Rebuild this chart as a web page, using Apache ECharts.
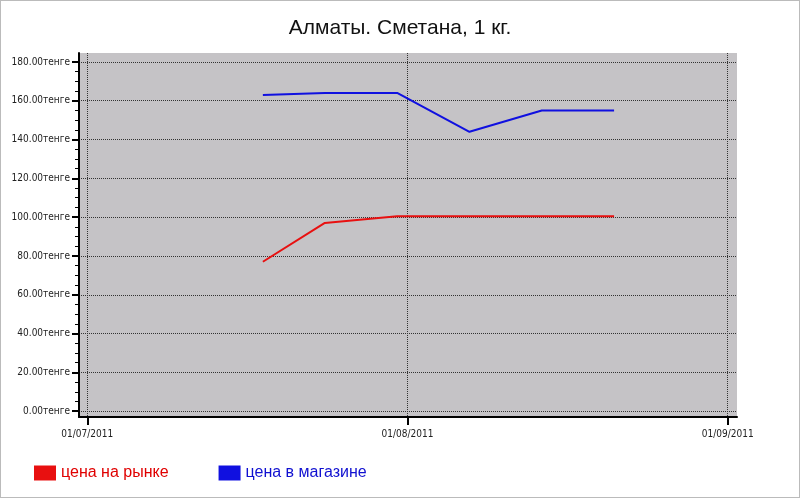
<!DOCTYPE html>
<html><head><meta charset="utf-8">
<script src="https://cdn.jsdelivr.net/npm/echarts@6/dist/echarts.min.js"></script>
<style>html,body{margin:0;padding:0;background:#fff}#c{width:800px;height:498px;box-sizing:border-box;border:1px solid #bbb}</style>
</head><body><div id="c"></div>
<script>
const dates = ['2011-07-18','2011-07-24','2011-07-31','2011-08-07','2011-08-14','2011-08-21'];
const marketPrice = [77, 97, 100.5, 100.5, 100.5, 100.5];
const shopPrice = [163, 164, 164, 144, 155, 155];
const xTickDates = ['2011-07-01','2011-08-01','2011-09-01'];
const yTicks = [0,20,40,60,80,100,120,140,160,180];

const base = Date.UTC(2011,6,1);
const day = d => (Date.parse(d+'T00:00:00Z') - base)/86400000;
const fmt = v => { const dt = new Date(base + Math.round(v)*86400000);
  const p=n=>String(n).padStart(2,'0'); return p(dt.getUTCDate())+'/'+p(dt.getUTCMonth()+1)+'/'+dt.getUTCFullYear(); };
const xt = xTickDates.map(day);
const minorY = []; for (let v=0; v<=180; v+=5) minorY.push(v);

const chart = echarts.init(document.getElementById('c'));
chart.setOption({
  animation:false,
  textStyle:{fontFamily:'Liberation Sans'},
  title:{text:'Алматы. Сметана, 1 кг.', left:'center', top:12, textStyle:{fontSize:21,fontWeight:'normal',color:'#111',fontFamily:'Liberation Sans'}},
  legend:{left:28, top:459, itemWidth:22, itemHeight:15, itemGap:50, icon:'rect',
    data:[{name:'цена на рынке', textStyle:{color:'#e00000'}},{name:'цена в магазине', textStyle:{color:'#1010d0'}}],
    textStyle:{fontSize:16}},
  grid:{left:78, right:62, top:52, bottom:80, show:true, backgroundColor:'#c5c3c6', borderWidth:0},
  xAxis:{type:'value', min:-0.8, max:62.9,
    axisLine:{onZero:false, lineStyle:{color:'#000',width:2}},
    axisTick:{customValues:xt, length:8, lineStyle:{color:'#000',width:2}},
    axisLabel:{customValues:xt, formatter:fmt, fontSize:10, color:'#222', margin:12, fontFamily:'DejaVu Sans Condensed'},
    splitLine:{show:true, lineStyle:{type:'dotted', color:'#333'}}},
  yAxis:[{type:'value', min:-3, max:184.6, position:'left',
    axisLine:{show:true, onZero:false, lineStyle:{color:'#000',width:2}},
    axisTick:{customValues:yTicks, length:7, lineStyle:{color:'#000',width:2}},
    axisLabel:{customValues:yTicks, formatter:v=>v.toFixed(2)+'тенге', fontSize:10, color:'#222', margin:9, fontFamily:'DejaVu Sans Condensed'},
    splitLine:{show:true, lineStyle:{type:'dotted', color:'#333'}}},
   {type:'value', min:-3, max:184.6, position:'left', offset:0,
    axisLine:{show:false, onZero:false},
    axisTick:{customValues:minorY, length:4, lineStyle:{color:'#000'}},
    axisLabel:{show:false}, splitLine:{show:false}}],
  series:[
    {name:'цена на рынке', type:'line', symbol:'none', color:'#e81010', lineStyle:{width:2},
     data:dates.map((d,i)=>[day(d), marketPrice[i]])},
    {name:'цена в магазине', type:'line', symbol:'none', color:'#1010e0', lineStyle:{width:2},
     data:dates.map((d,i)=>[day(d), shopPrice[i]])}
  ]
});
</script></body></html>
